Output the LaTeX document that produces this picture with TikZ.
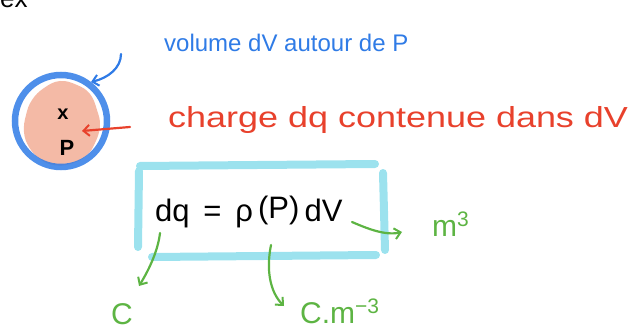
\documentclass[tikz,border=0pt]{standalone}
\usepackage{fontspec}
\setmainfont{Liberation Sans}
\usetikzlibrary{arrows.meta}
\definecolor{pblue}{HTML}{2F7BE6}
\definecolor{pred}{HTML}{E8412C}
\definecolor{pgreen}{HTML}{5DB443}
\definecolor{pcyan}{HTML}{9CE2EE}
\definecolor{psalmon}{HTML}{F4BAA6}
\tikzset{
  hand/.style={line width=2.2pt, line cap=round, line join=round},
  tipbarb/.style={-{Straight Barb[length=6pt,width=11pt,line width=2pt]}},
  boxline/.style={pcyan, line width=8pt, line cap=round},
  bluetxt/.style={pblue, font=\fontsize{24}{26}\selectfont, anchor=base west, inner sep=0pt},
  redtxt/.style={pred, font=\fontsize{29}{31}\selectfont, anchor=base west, inner sep=0pt},
  greentxt/.style={pgreen, font=\fontsize{30}{32}\selectfont, anchor=base west, inner sep=0pt},
}
\begin{document}
\begin{tikzpicture}[x=1pt,y=-1pt]
\useasboundingbox (0,0) rectangle (634,331);
% cut-off title at the top left
\node[anchor=base west, inner sep=0pt, font=\fontsize{26}{28}\selectfont] (title) at (0,8) {ex};
% volume element
\fill[psalmon] plot[smooth cycle, tension=0.7] coordinates {
 (60,81) (77,85) (90,94) (97,110) (100,126) (95,143) (86,156) (70,164)
 (54,165) (40,159) (29,147) (24,132) (26,115) (32,100) (44,88)};
\node[draw=pblue, line width=6.5pt, circle, minimum width=92pt, opacity=0.85] (vol) at (61,121) {};
\node[inner sep=0pt, font=\fontsize{20}{22}\selectfont\bfseries] (x) at (63,114) {x};
\node[inner sep=0pt, font=\fontsize{22}{24}\selectfont\bfseries] (P) at (67,148) {P};
% labels
\node[bluetxt] (lblue) at (164,52) {volume dV autour de P};
\node[redtxt] (lred) at (168,128) {\scalebox{1.24}[1]{charge dq contenue dans dV}};
\coordinate (bs) at (121,54);
\coordinate (bt) at (91,82);
\draw[hand, pblue, tipbarb] (bs) .. controls (121,68) and (108,78) .. (bt);
\coordinate (rs) at (130,127);
\coordinate (rt) at (82,131);
\draw[hand, pred, tipbarb] (rs) -- (rt);
% box
\draw[boxline] (140,166) -- (375,164);
\draw[boxline] (139,171) -- (138,247);
\draw[boxline] (152,257) -- (376,255);
\draw[boxline] (383,173) -- (385,250);
\node[anchor=base west, inner sep=0pt, font=\fontsize{31}{33}\selectfont] (eq) at (155,222) {dq \,=\, ρ\,\raisebox{3pt}{(P)}\,dV};
% units
\coordinate (g1s) at (160,233);
\coordinate (g1t) at (139,286);
\draw[hand, pgreen, tipbarb] (g1s) .. controls (158,250) and (150,268) .. (g1t);
\node[greentxt] (uC) at (111,324) {C};
\coordinate (g2s) at (271,245);
\coordinate (g2t) at (284,306);
\draw[hand, pgreen, tipbarb] (g2s) .. controls (266,270) and (270,292) .. (g2t);
\node[greentxt] (uCm) at (300,323) {C.m\textsuperscript{−3}};
\coordinate (g3s) at (352,222);
\coordinate (g3t) at (402,232);
\draw[hand, pgreen, tipbarb] (g3s) .. controls (366,228) and (385,236) .. (g3t);
\node[greentxt] (um) at (432,236) {m\textsuperscript{3}};
\end{tikzpicture}
\end{document}
